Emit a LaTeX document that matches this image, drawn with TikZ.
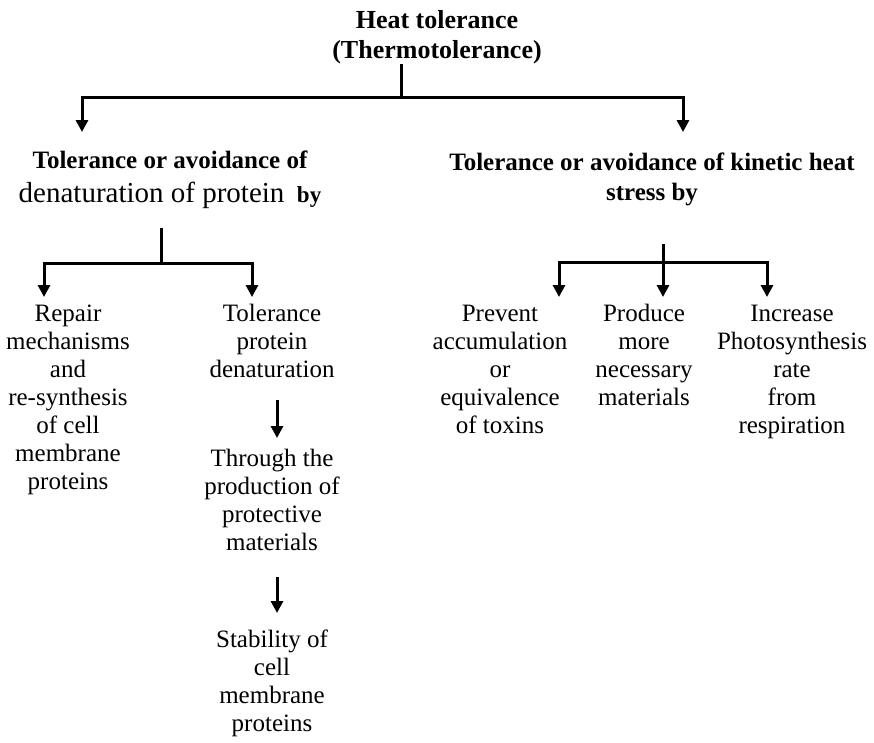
\documentclass[tikz,border=0pt]{standalone}
\usepackage{fontspec}
\setmainfont{Liberation Serif}
\usepackage{tikz}
\usetikzlibrary{arrows.meta, calc, positioning}
\tikzset{
    titlenode/.style = {draw=none, fill=none, rectangle, inner sep=0em, anchor=north,
      align=center, font=\fontsize{26}{30}\selectfont\bfseries},
    headnode/.style = {draw=none, fill=none, rectangle, inner sep=0em, anchor=north,
      align=center, font=\fontsize{25}{30}\selectfont\bfseries},
    textnode/.style = {draw=none, fill=none, rectangle, inner sep=0em, anchor=north,
      align=center, font=\fontsize{25}{28}\selectfont},
    branch/.style = {black, line width=3pt},
    connect/.style = {black, line width=3pt, -{Triangle[width=12pt,length=12pt]}}
}

\begin{document}
\begin{tikzpicture}[x=1pt, y=-1pt]
    \useasboundingbox (0,0) rectangle (874,742);

    \node [name=title, titlenode] at (437,7) {\strut Heat tolerance\\(Thermotolerance)};

    \node [name=lefthead, headnode, font=\fontsize{25}{34}\selectfont\bfseries] at (170,144)
        {\strut Tolerance or avoidance of\\{\fontsize{29}{34}\selectfont\mdseries denaturation of protein}\ \ {\fontsize{23}{34}\selectfont by}};
    \node [name=righthead, headnode] at (652,149) {\strut Tolerance or avoidance of kinetic heat\\stress by};

    \node [name=repair, textnode] at (68,302) {\strut Repair\\mechanisms\\and\\re-synthesis\\of cell\\membrane\\proteins};
    \node [name=tolprot, textnode] at (272,302) {\strut Tolerance\\protein\\denaturation};
    \node [name=through, textnode] at (272,447) {\strut Through the\\production of\\protective\\materials};
    \node [name=stability, textnode] at (272,628) {\strut Stability of\\cell\\membrane\\proteins};

    \node [name=prevent, textnode] at (500,302) {\strut Prevent\\accumulation\\or\\equivalence\\of toxins};
    \node [name=produce, textnode] at (644,302) {\strut Produce\\more\\necessary\\materials};
    \node [name=increase, textnode] at (792,302) {\strut Increase\\Photosynthesis\\rate\\from\\respiration};

    % junctions and arrow tips
    \coordinate (top) at (401,97);
    \coordinate (tipl) at (82,132);
    \coordinate (tipr) at (683,132);
    \coordinate (jl) at (161,263);
    \coordinate (jr) at (663,262);
    \coordinate (col) at (277,0);

    \draw [branch] (title.south -| top) -- (top);
    \draw [connect] (top) -| (tipl);
    \draw [connect] (top) -| (tipr);

    \draw [branch] ([yshift=-20pt]lefthead.south -| jl) -- (jl);
    \draw [connect] (jl) -| (44,297);
    \draw [connect] (jl) -| (252,297);

    \draw [branch] ([yshift=-38pt]righthead.south -| jr) -- (jr);
    \draw [connect] (jr) -| (559,297);
    \draw [connect] (jr) -- (663,297);
    \draw [connect] (jr) -| (767,297);

    \draw [connect] ([yshift=-22pt]tolprot.south -| col) -- ([yshift=9pt]through.north -| col);
    \draw [connect] ([yshift=-26pt]through.south -| col) -- ([yshift=15pt]stability.north -| col);
\end{tikzpicture}
\end{document}
